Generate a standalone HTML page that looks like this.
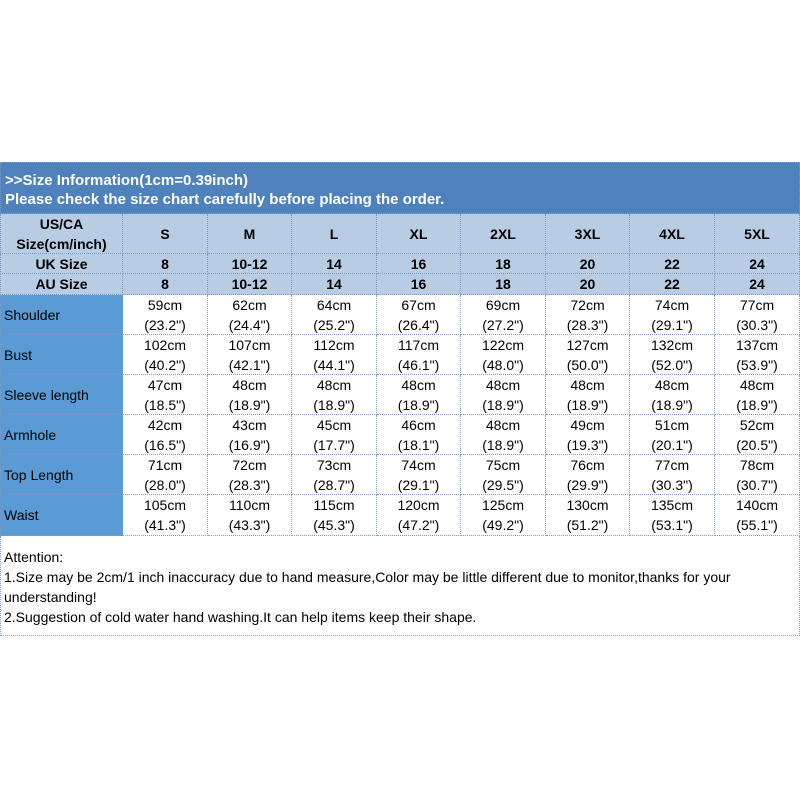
<!DOCTYPE html>
<html><head><style>
body{margin:0;width:800px;height:800px;background:#fff;font-family:"Liberation Sans",Arial,sans-serif;position:relative;overflow:hidden}
.c{position:absolute;box-sizing:border-box;border-right:1px dotted #7f9cc0;border-bottom:1px dotted #7f9cc0;display:flex;align-items:center;justify-content:center;text-align:center;font-size:14px;line-height:20px;color:#000}
.h{background:#b8cce4;font-weight:bold}
.f{background:#5b9bd5;justify-content:flex-start;padding-left:3px}
#top{position:absolute;left:0;top:162px;width:800px;height:52px;background:#4f81bd;color:#fff;font-weight:bold;font-size:15px;line-height:19px;padding:8px 4px;box-sizing:border-box;border:1px dotted #7f9cc0}
#att{position:absolute;left:0;top:536px;width:800px;height:100px;box-sizing:border-box;border:1px dotted #7f9cc0;border-top:none;font-size:14px;line-height:20px;padding:11px 3px}
</style></head><body>
<div id="top">&gt;&gt;Size Information(1cm=0.39inch)<br>Please check the size chart carefully before placing the order.</div>
<div id="t"></div>
<div id="att">Attention:<br>1.Size may be 2cm/1 inch inaccuracy due to hand measure,Color may be little different due to monitor,thanks for your understanding!<br>2.Suggestion of cold water hand washing.It can help items keep their shape.</div>
<script>
var xs=[0,123,208,292,377,461,546,630,715,800];
var rows=[[214,254,"h",["US/CA<br>Size(cm/inch)","S","M","L","XL","2XL","3XL","4XL","5XL"]],
[254,274,"h",["UK Size","8","10-12","14","16","18","20","22","24"]],
[274,295,"h",["AU Size","8","10-12","14","16","18","20","22","24"]]];
var d=[["Shoulder",[59,62,64,67,69,72,74,77],["23.2","24.4","25.2","26.4","27.2","28.3","29.1","30.3"]],
["Bust",[102,107,112,117,122,127,132,137],["40.2","42.1","44.1","46.1","48.0","50.0","52.0","53.9"]],
["Sleeve length",[47,48,48,48,48,48,48,48],["18.5","18.9","18.9","18.9","18.9","18.9","18.9","18.9"]],
["Armhole",[42,43,45,46,48,49,51,52],["16.5","16.9","17.7","18.1","18.9","19.3","20.1","20.5"]],
["Top Length",[71,72,73,74,75,76,77,78],["28.0","28.3","28.7","29.1","29.5","29.9","30.3","30.7"]],
["Waist",[105,110,115,120,125,130,135,140],["41.3","43.3","45.3","47.2","49.2","51.2","53.1","55.1"]]];
var y=295;
d.forEach(function(r,i){var h=i==5?41:40;var cells=[r[0]];for(var k=0;k<8;k++)cells.push(r[1][k]+'cm<br>('+r[2][k]+'")');rows.push([y,y+h,"",cells]);y+=h;});
var out="";
rows.forEach(function(r){for(var j=0;j<9;j++){var cls="c "+r[2];if(r[2]==""&&j==0)cls+=" f";out+='<div class="'+cls+'" style="left:'+xs[j]+'px;top:'+r[0]+'px;width:'+(xs[j+1]-xs[j])+'px;height:'+(r[1]-r[0])+'px;'+(j==0?'border-left:1px dotted #7f9cc0;':'')+'">'+r[3][j]+'</div>';}});
document.getElementById("t").innerHTML=out;
</script>
</body></html>
